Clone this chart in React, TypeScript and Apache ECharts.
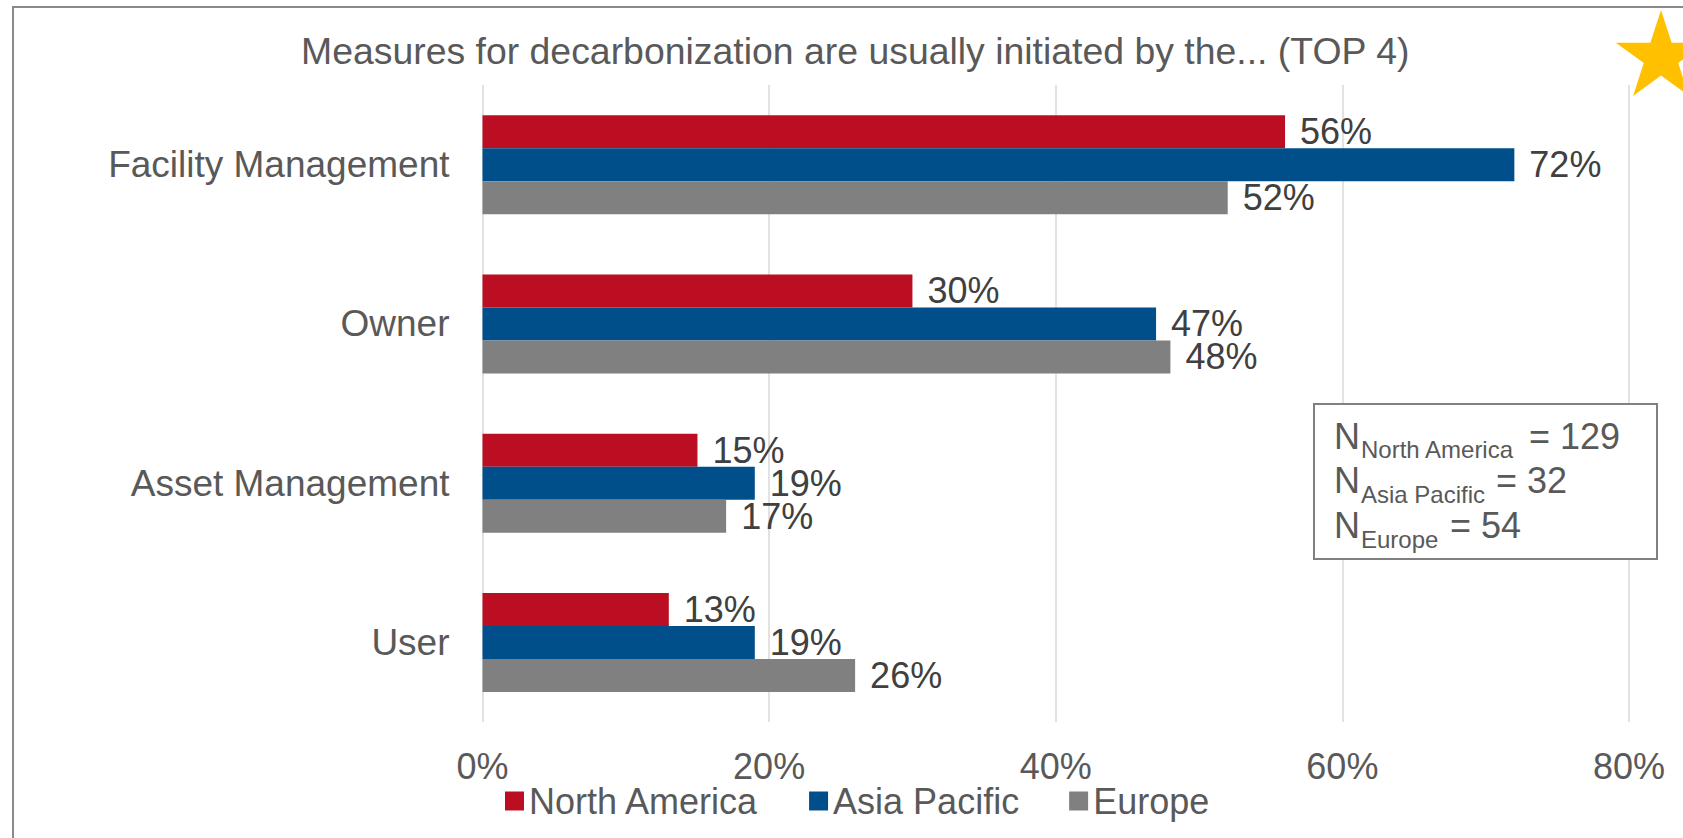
import React, { useEffect, useRef } from "react";
import * as echarts from "echarts";

const categories = ["Facility Management", "Owner", "Asset Management", "User"];
const seriesNames = ["North America", "Asia Pacific", "Europe"];
const northAmerica = [56, 30, 15, 13];
const asiaPacific = [72, 47, 19, 19];
const europe = [52, 48, 17, 26];
const sampleSizes = [129, 32, 54];
const xTicks = { min: 0, max: 80, interval: 20 };
const titleText = "Measures for decarbonization are usually initiated by the... (TOP 4)";

const COLORS = ["#bb0e23", "#004f8a", "#808080"];
const FONT = "'Liberation Sans', Arial, sans-serif";

function starPoints(cx: number, cy: number, R: number, r: number) {
  const pts: number[][] = [];
  for (let i = 0; i < 10; i++) {
    const a = ((-90 + i * 36) * Math.PI) / 180;
    const rad = i % 2 === 0 ? R : r;
    pts.push([cx + rad * Math.cos(a), cy + rad * Math.sin(a)]);
  }
  return pts;
}

export default function App() {
  const ref = useRef<HTMLDivElement>(null);
  useEffect(() => {
    if (!ref.current) return;
    const chart = echarts.init(ref.current, undefined, { renderer: "svg" });
    const values = [northAmerica, asiaPacific, europe];

    const lineYs = [436, 480.5, 525.5];
    const eqX = [1529, 1496, 1450];
    const boxTexts: any[] = [];
    seriesNames.forEach((name, i) => {
      boxTexts.push({
        type: "text",
        x: 1334,
        y: lineYs[i],
        z: 101,
        style: { text: "N", fontSize: 36, fontFamily: FONT, fill: "#595959", verticalAlign: "middle", align: "left" },
      });
      boxTexts.push({
        type: "text",
        x: 1361,
        y: lineYs[i] + 13.5,
        z: 101,
        style: { text: name, fontSize: 24, fontFamily: FONT, fill: "#595959", verticalAlign: "middle", align: "left" },
      });
      boxTexts.push({
        type: "text",
        x: eqX[i],
        y: lineYs[i],
        z: 101,
        style: { text: "= " + sampleSizes[i], fontSize: 36, fontFamily: FONT, fill: "#595959", verticalAlign: "middle", align: "left" },
      });
    });

    chart.setOption({
      animation: false,
      backgroundColor: "#ffffff",
      grid: { left: 482.5, right: 54, top: 85, bottom: 116, containLabel: false },
      xAxis: {
        type: "value",
        min: xTicks.min,
        max: xTicks.max,
        interval: xTicks.interval,
        axisLine: { show: false },
        axisTick: { show: false },
        axisLabel: { formatter: "{value}%", fontSize: 36, color: "#595959", fontFamily: FONT, margin: 26 },
        splitLine: { show: true, lineStyle: { color: "#d9d9d9", width: 1.5 } },
      },
      yAxis: {
        type: "category",
        data: categories,
        inverse: true,
        axisLine: { show: false },
        axisTick: { show: false },
        axisLabel: { fontSize: 37, color: "#595959", fontFamily: FONT, margin: 33 },
      },
      legend: {
        left: 500,
        top: 778,
        itemWidth: 19,
        itemHeight: 19,
        itemGap: 50,
        icon: "rect",
        data: seriesNames,
        textStyle: { fontSize: 36, color: "#595959", fontFamily: FONT },
      },
      series: seriesNames.map((name, i) => ({
        name,
        type: "bar",
        data: values[i],
        barWidth: 33,
        barGap: "0%",
        itemStyle: { color: COLORS[i] },
        label: {
          show: true,
          position: "right",
          distance: 15,
          formatter: "{c}%",
          fontSize: 36,
          color: "#404040",
          fontFamily: FONT,
        },
      })),
      graphic: [
        {
          type: "rect",
          z: 50,
          silent: true,
          shape: { x: 13, y: 7, width: 1720, height: 880 },
          style: { fill: "none", stroke: "#8a8a8a", lineWidth: 2 },
        },
        {
          type: "text",
          x: 301,
          y: 51,
          z: 100,
          style: { text: titleText, fontSize: 37.4, fontFamily: FONT, fill: "#595959", verticalAlign: "middle", align: "left" },
        },
        {
          type: "polygon",
          z: 100,
          shape: { points: starPoints(1661, 57.5, 47.5, 18.1) },
          style: { fill: "#ffc000" },
        },
        {
          type: "rect",
          z: 100,
          shape: { x: 1314, y: 404, width: 343, height: 155 },
          style: { fill: "#ffffff", stroke: "#808080", lineWidth: 2 },
        },
        ...boxTexts,
      ],
    });
    return () => chart.dispose();
  }, []);
  return (
    <div
      ref={ref}
      style={{ position: "absolute", left: 0, top: 0, width: 1683, height: 838, background: "#fff" }}
    />
  );
}
